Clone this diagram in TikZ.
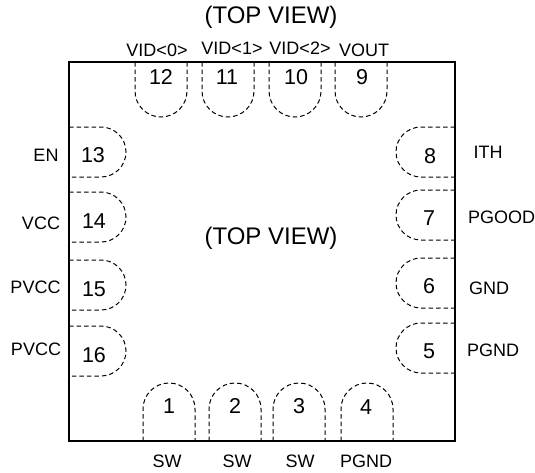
\documentclass[tikz,border=0pt]{standalone}
\usepackage{fontspec}
\setmainfont{Liberation Sans}
\usepackage{tikz}
\begin{document}
\begin{tikzpicture}[x=1pt,y=-1pt]
        \tikzstyle{pad}=[dash pattern=on 4.5pt off 3pt, line width=1pt, black]
        \tikzstyle{pin}=[inner sep=0pt, font=\fontsize{21.5}{22}\selectfont]
        \tikzstyle{signal}=[inner sep=0pt, font=\fontsize{18}{19}\selectfont]
        \tikzstyle{heading}=[inner sep=0pt, font=\fontsize{24}{25}\selectfont]
        \useasboundingbox (0,0) rectangle (535,472);

        % Package outline
        \draw[line width=1.4pt] (69,62) rectangle (455,441);

        % Top pads
        \foreach \x in {135,202,269,335}
            \draw[pad] (\x,62) -- (\x,91) arc (180:0:26 and 26) -- (\x+52,62);
        % Bottom pads
        \foreach \x in {143,209,273,341}
            \draw[pad] (\x,441) -- (\x,409) arc (180:0:26 and -26) -- (\x+52,441) -- cycle;
        % Left pads
        \foreach \y in {127,192,260,326}
            \draw[pad] (69,\y) -- (101,\y) arc (90:-90:25 and -25) -- (69,\y+50);
        % Right pads
        \foreach \y in {127,190,258,323}
            \draw[pad] (455,\y) -- (421,\y) arc (90:270:25 and -25) -- (455,\y+50);

        % Pin numbers
        \foreach \n/\x/\y in {1/169/406,2/235/406,3/299/406,4/366/407,
                5/429/351,6/429/286,7/429/218,8/430/156,
                9/362/77,10/296/77,11/227/77,12/161/77,
                13/93/155,14/94/221,15/94/289,16/94/355}
            \node (pin\n)[pin] at (\x,\y) {\n};

        % Signal names
        \node (sw1)[signal] at (167,461) {SW};
        \node (sw2)[signal] at (237,461) {SW};
        \node (sw3)[signal] at (300,461) {SW};
        \node (pgnd4)[signal] at (366,461) {PGND};
        \node (pgnd5)[signal] at (493,350) {PGND};
        \node (gnd)[signal] at (489,288) {GND};
        \node (pgood)[signal] at (501.5,217) {PGOOD};
        \node (ith)[signal] at (488,152) {ITH};
        \node (vout)[signal] at (364,50) {VOUT};
        \node (vid2)[signal] at (300,48) {VID<2>};
        \node (vid1)[signal] at (232,48) {VID<1>};
        \node (vid0)[signal] at (157,50) {VID<0>};
        \node (en)[signal] at (46,155) {EN};
        \node (vcc)[signal] at (41,223) {VCC};
        \node (pvcc15)[signal] at (35.5,287) {PVCC};
        \node (pvcc16)[signal] at (36,349) {PVCC};

        % Headings
        \node (viewtop)[heading] at (271,17) {(TOP VIEW)};
        \node (viewmid)[heading] at (271,238) {(TOP VIEW)};
    \end{tikzpicture}
\end{document}
